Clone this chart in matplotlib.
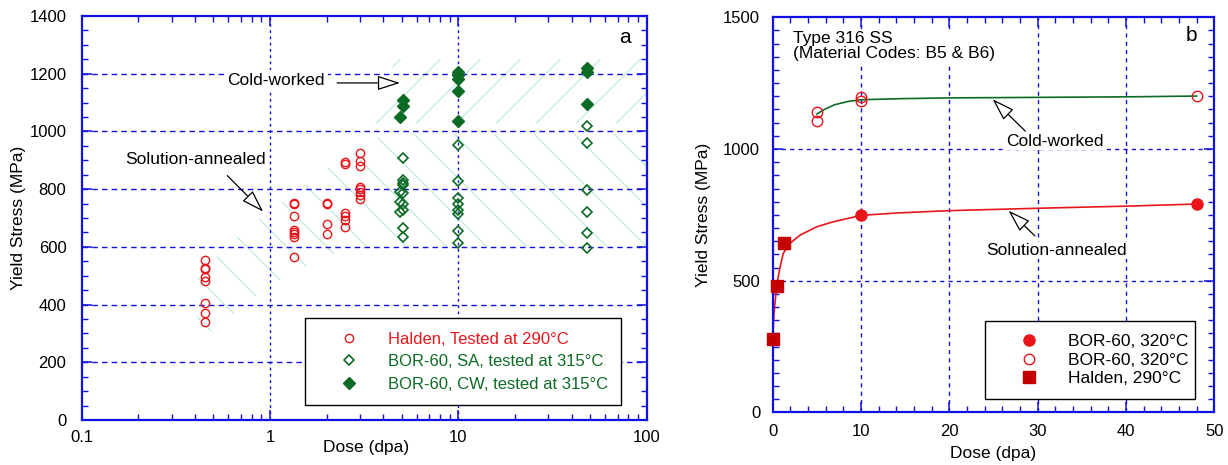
import numpy as np
import matplotlib
matplotlib.use("Agg")
import matplotlib.pyplot as plt
from matplotlib.patches import Polygon
from matplotlib.lines import Line2D
from matplotlib.transforms import IdentityTransform
from matplotlib.ticker import FixedLocator, FixedFormatter, MultipleLocator, LogLocator, NullFormatter

plt.rcParams['font.family'] = ['Liberation Sans', 'DejaVu Sans']

# ---------------- data: panel a ----------------
halden_dose = [0.45] * 8 + [1.34] * 8 + [2.0] * 4 + [2.5] * 6 + [3.0] * 8
halden_ys = [554, 526, 522, 497, 483, 406, 371, 339,
             753, 748, 708, 658, 652, 644, 633, 564,
             753, 748, 678, 644,
             894, 886, 716, 707, 693, 668,
             926, 898, 881, 808, 799, 790, 781, 767]

sa_dose = [5.1, 5.1, 5.1, 4.9, 5.1, 5.1, 4.9, 5.1, 4.9, 5.1, 5.1, 5.1,
           10, 10, 10, 10, 10, 10, 10, 10,
           48, 48, 48, 48, 48, 48]
sa_ys = [909, 832, 822, 791, 814, 788, 756, 748, 722, 728, 664, 635,
         954, 828, 768, 748, 728, 713, 655, 614,
         1019, 959, 797, 720, 647, 597]

cw_dose = [5.1, 5.1, 4.9, 10, 10, 10, 10, 10, 48, 48, 48]
cw_ys = [1109, 1088, 1051, 1205, 1195, 1181, 1140, 1036, 1219, 1207, 1094]

# schematic bands (hatched regions)
sa_band_dose = [0.36, 0.45, 1.0, 2.0, 3.0, 100, 100, 4.0, 2.0, 1.0, 0.6]
sa_band_ys = [450, 290, 465, 570, 600, 600, 990, 990, 870, 725, 610]
cw_band_dose = [3.6, 100, 100, 4.6]
cw_band_ys = [1030, 1030, 1250, 1250]

# ---------------- data: panel b ----------------
bor_sa_dose = [10, 48]
bor_sa_ys = [748, 791]
bor_cw_dose = [5, 5, 10, 10, 48]
bor_cw_ys = [1142, 1107, 1196, 1183, 1201]
halden_b_dose = [0, 0.45, 1.3]
halden_b_ys = [277, 481, 642]

sa_curve_dose = [0, 0.15, 0.45, 0.83, 1.2, 1.96, 3.1, 5.0, 6.9, 10, 14, 20, 30, 40, 48]
sa_curve_ys = [277, 376, 481, 552, 604, 642, 673, 705, 724, 748, 757, 766, 775, 783, 791]
cw_curve_dose = [5, 5.9, 7.0, 8.6, 10, 14.4, 20, 30, 40, 48]
cw_curve_ys = [1133, 1151, 1168, 1181, 1187, 1191, 1194, 1196, 1198, 1201]

RED = '#e8161b'
DKRED = '#c40000'
GREEN = '#0d6b25'
BLUE = '#1010e0'
HATCH = '#c2e9e3'

DPI = 100
fig = plt.figure(figsize=(12.28, 4.65), dpi=DPI)
W, H = 1228, 465
axa = fig.add_axes([81.7 / W, 1 - 420 / H, 565 / W, 404 / H])
axb = fig.add_axes([772.7 / W, 1 - 412.4 / H, 441.6 / W, 395.1 / H])


def style_axes(ax):
    for sp in ax.spines.values():
        sp.set_color(BLUE)
        sp.set_linewidth(1.6)
    ax.tick_params(which='both', direction='in', top=True, right=True, color=BLUE,
                   labelsize=12, labelcolor='black')
    ax.tick_params(which='major', length=7, width=1.1)
    ax.tick_params(which='minor', length=4, width=1.0)


def hatch_region(ax, xs, ys, direction, spacing=40):
    poly = Polygon(np.column_stack([xs, ys]), closed=True, facecolor='none',
                   edgecolor='none', transform=ax.transData)
    ax.add_patch(poly)
    pts = ax.transData.transform(np.column_stack([xs, ys]))
    x0, y0 = pts.min(axis=0) - 5
    x1, y1 = pts.max(axis=0) + 5
    if direction == 'back':  # "\" lines: y = -x + c
        cs = np.arange(x0 + y0, x1 + y1, spacing)
        for c in cs:
            ln = Line2D([x0, x1], [c - x0, c - x1], transform=IdentityTransform(),
                        color=HATCH, lw=0.9, zorder=0.5)
            ln.set_clip_path(poly)
            ax.add_line(ln)
    else:  # "/" lines: y = x + c
        cs = np.arange(y0 - x1, y1 - x0, spacing)
        for c in cs:
            ln = Line2D([x0, x1], [x0 + c, x1 + c], transform=IdentityTransform(),
                        color=HATCH, lw=0.9, zorder=0.5)
            ln.set_clip_path(poly)
            ax.add_line(ln)


# ================= panel a =================
style_axes(axa)
axa.set_xscale('log')
axa.set_xlim(0.1, 100)
axa.set_ylim(0, 1400)
axa.xaxis.set_major_locator(FixedLocator([0.1, 1, 10, 100]))
axa.xaxis.set_major_formatter(FixedFormatter(['0.1', '1', '10', '100']))
axa.xaxis.set_minor_locator(LogLocator(base=10, subs=np.arange(2, 10)))
axa.xaxis.set_minor_formatter(NullFormatter())
axa.yaxis.set_major_locator(MultipleLocator(200))
axa.yaxis.set_minor_locator(MultipleLocator(50))
axa.tick_params(axis='y', pad=11)
axa.tick_params(axis='x', pad=7)

for yv in [200, 400, 600, 800, 1000, 1200]:
    axa.axhline(yv, color=BLUE, lw=1.0, ls=(0, (4, 3)), zorder=1)
for xv in [1, 10]:
    axa.axvline(xv, color=BLUE, lw=1.0, ls=(0, (2, 2.5)), zorder=1)

hatch_region(axa, sa_band_dose, sa_band_ys, 'back')
hatch_region(axa, cw_band_dose, cw_band_ys, 'fwd')

axa.plot(halden_dose, halden_ys, 'o', ms=6, mfc='none', mec=RED, mew=1.0, ls='none',
         zorder=3, label='Halden, Tested at 290°C')
axa.plot(sa_dose, sa_ys, 'D', ms=5.5, mfc='none', mec=GREEN, mew=1.2, ls='none',
         zorder=3, label='BOR-60, SA, tested at 315°C')
axa.plot(cw_dose, cw_ys, 'D', ms=6.5, mfc=GREEN, mec=GREEN, mew=1.0, ls='none',
         zorder=3, label='BOR-60, CW, tested at 315°C')

arrow_kw = dict(arrowstyle='-|>,head_length=1.4,head_width=0.45', fc='white',
                ec='black', lw=0.9, shrinkA=0, shrinkB=0)
axa.annotate('', xy=(4.9, 1168), xytext=(2.27, 1168), arrowprops=arrow_kw, zorder=4)
axa.text(1.077, 1178, 'Cold-worked', fontsize=12.5, ha='center', va='center',
         bbox=dict(fc='white', ec='none', pad=2), zorder=4)
axa.annotate('', xy=(0.92, 722), xytext=(0.593, 847), arrowprops=arrow_kw, zorder=4)
axa.text(0.404, 904, 'Solution-annealed', fontsize=12.5, ha='center', va='center', zorder=4)
axa.text(0.962, 0.946, 'a', transform=axa.transAxes, fontsize=15, ha='center', va='center')

leg = axa.legend(loc='lower left', bbox_to_anchor=(0.395, 0.037, 0.56, 0.215), mode='expand',
                 fontsize=12, frameon=True, fancybox=False, framealpha=1, edgecolor='black',
                 handlelength=3.7, handletextpad=0.5, borderpad=0.8, labelspacing=0.45,
                 borderaxespad=0)
leg.get_frame().set_linewidth(1.0)
for t, c in zip(leg.get_texts(), [RED, GREEN, GREEN]):
    t.set_color(c)
leg.set_zorder(5)

axa.set_xlabel('Dose (dpa)', fontsize=12.5)
axa.set_ylabel('Yield Stress (MPa)', fontsize=12.5)
axa.xaxis.set_label_coords(0.503, -0.069)
axa.xaxis.label.set_va('center')
axa.yaxis.set_label_coords(-0.111, 0.5)
axa.yaxis.label.set_va('center')

# ================= panel b =================
style_axes(axb)
axb.set_xlim(0, 50)
axb.set_ylim(0, 1500)
axb.xaxis.set_major_locator(MultipleLocator(10))
axb.xaxis.set_minor_locator(MultipleLocator(2))
axb.yaxis.set_major_locator(MultipleLocator(500))
axb.yaxis.set_minor_locator(MultipleLocator(50))
axb.tick_params(axis='y', pad=9)
axb.tick_params(axis='x', pad=8)

for yv in [500, 1000]:
    axb.axhline(yv, color=BLUE, lw=1.0, ls=(0, (3, 3)), zorder=1)
for xv in [10, 20, 30, 40]:
    axb.axvline(xv, color=BLUE, lw=1.0, ls=(0, (3, 3)), zorder=1)

axb.plot(cw_curve_dose, cw_curve_ys, '-', color=GREEN, lw=1.2, zorder=2)
axb.plot(sa_curve_dose, sa_curve_ys, '-', color=RED, lw=1.2, zorder=2)

axb.plot(bor_sa_dose, bor_sa_ys, 'o', ms=8, mfc=RED, mec=RED, ls='none', zorder=3,
         label='BOR-60, 320°C', clip_on=False)
axb.plot(bor_cw_dose, bor_cw_ys, 'o', ms=7.5, mfc='none', mec=RED, mew=1.0, ls='none',
         zorder=3, label='BOR-60, 320°C', clip_on=False)
axb.plot(halden_b_dose, halden_b_ys, 's', ms=8.5, mfc=DKRED, mec=DKRED, ls='none', zorder=3,
         label='Halden, 290°C', clip_on=False)

axb.annotate('', xy=(24.9, 1189), xytext=(28.6, 1068), arrowprops=arrow_kw, zorder=4)
axb.text(32.0, 1030, 'Cold-worked', fontsize=12.5, ha='center', va='center',
         bbox=dict(fc='white', ec='none', pad=1), zorder=4)
axb.annotate('', xy=(26.7, 766), xytext=(29.7, 670), arrowprops=arrow_kw, zorder=4)
axb.text(32.1, 615, 'Solution-annealed', fontsize=12.5, ha='center', va='center',
         bbox=dict(fc='white', ec='none', pad=1), zorder=4)
axb.text(0.046, 0.965, 'Type 316 SS\n(Material Codes: B5 & B6)', transform=axb.transAxes,
         fontsize=12.5, ha='left', va='top', linespacing=1.0,
         bbox=dict(fc='white', ec='none', pad=1), zorder=4)
axb.text(0.949, 0.955, 'b', transform=axb.transAxes, fontsize=15, ha='center', va='center')

legb = axb.legend(loc='lower left', bbox_to_anchor=(0.481, 0.033, 0.475, 0.2), mode='expand',
                  fontsize=12.5, frameon=True, fancybox=False, framealpha=1, edgecolor='black',
                  handlelength=3.5, handletextpad=0.5, borderpad=0.75, labelspacing=0.2,
                  borderaxespad=0)
legb.get_frame().set_linewidth(1.0)
legb.set_zorder(5)

axb.set_xlabel('Dose (dpa)', fontsize=12.5)
axb.set_ylabel('Yield Stress (MPa)', fontsize=12.5)
axb.xaxis.set_label_coords(0.5, -0.103)
axb.xaxis.label.set_va('center')
axb.yaxis.set_label_coords(-0.156, 0.5)
axb.yaxis.label.set_va('center')

fig.savefig('out.png', dpi=DPI)
